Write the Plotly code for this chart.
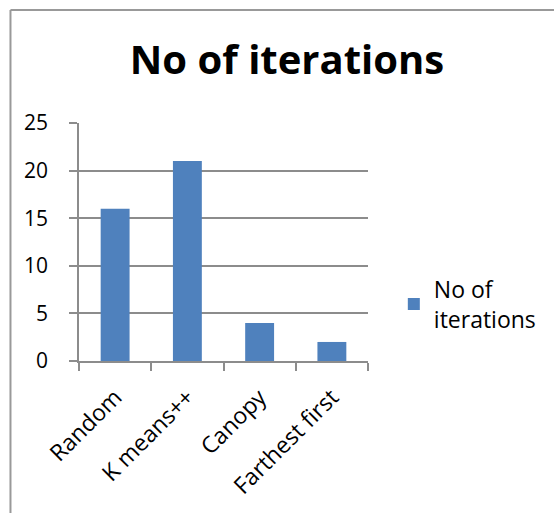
import plotly.graph_objects as go

categories = ["Random", "K means++", "Canopy", "Farthest first"]
values = [16, 21, 4, 2]
series_name = "No of<br>iterations"
title_text = "No of iterations"
y_ticks = [0, 5, 10, 15, 20, 25]

W, H = 554, 513
L, R, T, B = 79, 184, 123, 152
pw, ph = W - L - R, H - T - B

def px_x(px):
    return (px - L) / pw

def px_y(py):
    return (H - B - py) / ph

fig = go.Figure()
fig.add_trace(go.Bar(
    x=categories, y=values, name=series_name,
    marker=dict(color="#4F81BD", line=dict(width=0)),
    showlegend=True,
))

grid = "#8c8c8c"
fig.update_layout(
    width=W, height=H,
    margin=dict(l=L, r=R, t=T, b=B, pad=0),
    paper_bgcolor="white", plot_bgcolor="white",
    font=dict(family="Open Sans", size=21, color="black"),
    bargap=0.6,
    title=dict(text=f"<b>{title_text}</b>", x=287 / W, xref="container", xanchor="center",
               y=1 - 60 / H, yref="container", yanchor="middle",
               font=dict(family="Open Sans", size=40, color="black")),
    showlegend=True,
    legend=dict(x=px_x(396), xanchor="left", y=px_y(304), yanchor="middle",
                font=dict(family="Open Sans", size=23, color="black"),
                bgcolor="rgba(0,0,0,0)", borderwidth=0, tracegroupgap=0),
    xaxis=dict(
        type="category", showgrid=False, showline=True, linecolor=grid, linewidth=1.5,
        ticks="outside", tickson="boundaries", ticklen=8, tickcolor=grid, tickwidth=1.5,
        tickangle=-45, ticklabelstandoff=12,
        tickfont=dict(family="Open Sans", size=23, color="black"),
        zeroline=False,
    ),
    yaxis=dict(
        range=[0, 25], tickvals=y_ticks, showgrid=True, gridcolor=grid, gridwidth=1.5,
        showline=True, linecolor=grid, linewidth=1.5, ticks="outside", ticklen=8,
        tickcolor=grid, tickwidth=1.5, zeroline=False,
        ticklabelstandoff=17,
        tickfont=dict(family="Open Sans", size=21, color="black"),
    ),
    shapes=[
        dict(type="line", xref="paper", yref="paper", x0=px_x(10), x1=px_x(10),
             y0=px_y(10), y1=px_y(H + 20), line=dict(color="#999999", width=2)),
        dict(type="line", xref="paper", yref="paper", x0=px_x(10), x1=px_x(W + 20),
             y0=px_y(10), y1=px_y(10), line=dict(color="#999999", width=2)),
    ],
)

fig.write_html("out.html")
